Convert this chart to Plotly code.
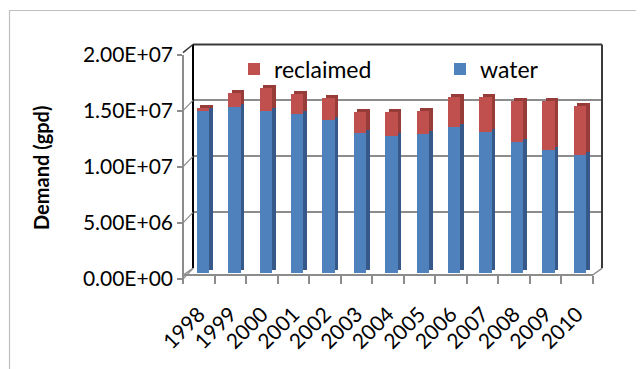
import plotly.graph_objects as go

# ---- data ----
years = ["1998", "1999", "2000", "2001", "2002", "2003", "2004",
         "2005", "2006", "2007", "2008", "2009", "2010"]
water = [14.7e6, 14.9e6, 14.6e6, 14.3e6, 13.8e6, 12.6e6, 12.35e6,
         12.5e6, 13.15e6, 12.65e6, 11.75e6, 11.1e6, 10.6e6]
reclaimed = [0.1e6, 1.3e6, 2.0e6, 1.8e6, 1.95e6, 1.9e6, 2.15e6,
             2.1e6, 2.65e6, 3.2e6, 3.75e6, 4.4e6, 4.4e6]
y_tickvals = [0, 5e6, 1e7, 1.5e7, 2e7]
y_ticktext = ["0.00E+00", "5.00E+06", "1.00E+07", "1.50E+07", "2.00E+07"]

W, H = 644, 369
OFF = 8  # page body margin
FONT = "Lato"


def fx(px):
    return (px - OFF) / W


def fy(px):
    return 1 - (px - OFF) / H


BLUE, RED = "#4F81BD", "#C0504D"
BLUE_D, RED_D = "#36598A", "#973C39"
GRID = "#8C8C8C"

fig = go.Figure()

# subplot 1: back wall gridlines (dummy trace)
fig.add_trace(go.Scatter(x=[], y=[], xaxis="x", yaxis="y", showlegend=False, hoverinfo="skip"))
# subplot 2: darker copy -> side/top faces of the 3D columns
fig.add_trace(go.Bar(x=years, y=water, xaxis="x2", yaxis="y2", marker_color=BLUE_D,
                     marker_line_width=0, width=0.4, showlegend=False, hoverinfo="skip"))
fig.add_trace(go.Bar(x=years, y=reclaimed, xaxis="x2", yaxis="y2", marker_color=RED_D,
                     marker_line_width=0, width=0.4, showlegend=False, hoverinfo="skip"))
# subplot 3: front faces
fig.add_trace(go.Bar(x=years, y=water, name="water", xaxis="x3", yaxis="y3",
                     marker_color=BLUE, marker_line_width=0, width=0.4, legend="legend2"))
fig.add_trace(go.Bar(x=years, y=reclaimed, name="reclaimed", xaxis="x3", yaxis="y3",
                     marker_color=RED, marker_line_width=0, width=0.4, legend="legend"))
# subplot 4: floor axis / front value axis
fig.add_trace(go.Scatter(x=years, y=[None] * len(years), xaxis="x4", yaxis="y4",
                         showlegend=False, hoverinfo="skip"))

hidden_x = dict(type="category", categoryorder="array", categoryarray=years,
                range=[-0.5, 12.5], visible=False, automargin=False)

# bar geometry
B0, BTOP = 273.3, 50.5      # y px of 0 and 2e7 for the front faces
BX0, BX1 = 187.3, 595.5     # x px of category span for front faces
DX, DY = 3.5, 3.0           # depth offset of the column extrusion

leg_common = dict(orientation="h", yanchor="middle", xanchor="left",
                  font=dict(size=23), bgcolor="rgba(0,0,0,0)", itemwidth=30)

fig.update_layout(
    width=W, height=H,
    margin=dict(l=0, r=0, t=0, b=0, autoexpand=False),
    paper_bgcolor="white", plot_bgcolor="rgba(0,0,0,0)",
    barmode="stack", bargap=0.6,
    font=dict(family=FONT, size=21, color="#000000"),
    xaxis=dict(hidden_x, domain=[fx(193), fx(602)], anchor="y"),
    yaxis=dict(domain=[fy(268.3), fy(44.5)], range=[0, 2e7], anchor="x",
               tickvals=y_tickvals, showticklabels=False, ticks="", automargin=False,
               showgrid=True, gridcolor=GRID, gridwidth=1.5, zeroline=False),
    xaxis2=dict(hidden_x, domain=[fx(BX0 + DX), fx(BX1 + DX)], anchor="y2"),
    yaxis2=dict(domain=[fy(B0 - DY), fy(BTOP - DY)], range=[0, 2e7], anchor="x2",
                visible=False, automargin=False),
    xaxis3=dict(hidden_x, domain=[fx(BX0), fx(BX1)], anchor="y3"),
    yaxis3=dict(domain=[fy(B0), fy(BTOP)], range=[0, 2e7], anchor="x3", visible=False,
                automargin=False),
    xaxis4=dict(type="category", categoryorder="array", categoryarray=years,
                range=[-0.5, 12.5], domain=[fx(183.3), fx(592.7)],
                anchor="free", position=fy(275), automargin=False,
                showline=True, linecolor=GRID, linewidth=1.5,
                ticks="outside", tickson="boundaries", ticklen=8, tickcolor=GRID,
                tickwidth=1.5, tickangle=-45, ticklabelstandoff=18,
                showgrid=False, zeroline=False, tickfont=dict(size=21)),
    yaxis4=dict(domain=[fy(279), fy(54.5)], range=[0, 2e7],
                anchor="free", position=fx(183), automargin=False,
                tickvals=y_tickvals, ticktext=y_ticktext,
                showline=True, linecolor=GRID, linewidth=1.5,
                ticks="outside", ticklen=5, tickcolor=GRID, tickwidth=1.5,
                showgrid=False, zeroline=False, tickfont=dict(size=21)),
    legend=dict(leg_common, x=fx(234), y=fy(69)),
    legend2=dict(leg_common, x=fx(440), y=fy(69)),
    showlegend=True,
)

shapes = []


def line(x0, y0, x1, y1, color, width):
    shapes.append(dict(type="line", xref="paper", yref="paper",
                       x0=fx(x0), y0=fy(y0), x1=fx(x1), y1=fy(y1),
                       line=dict(color=color, width=width)))


# outer chart border
shapes.append(dict(type="rect", xref="paper", yref="paper",
                   x0=fx(9.5), y0=fy(390), x1=fx(670), y1=fy(10.5),
                   line=dict(color="#BFBFBF", width=1.2)))
# back wall frame
line(193, 44.5, 602, 44.5, "#3A3A3A", 2)
line(602, 44.5, 602, 268.3, "#3A3A3A", 2)
line(193, 44.5, 193, 268.3, "#000000", 2)
# side wall top diagonal and floor diagonals
line(183, 52.7, 193, 44.5, "#3A3A3A", 1.5)
line(183.3, 275, 193, 268.3, GRID, 1.5)
line(592.7, 275, 602, 268.3, GRID, 1.5)
# side wall gridline connectors
for v in y_tickvals[:-1]:
    yf = 279 - (279 - 54.5) * v / 2e7
    yw = 268.3 - (268.3 - 44.5) * v / 2e7
    line(183, yf, 193, yw, GRID, 1.2)

fig.update_layout(shapes=shapes)

fig.add_annotation(text="<b>Demand (gpd)</b>", xref="paper", yref="paper",
                   x=fx(41), y=fy(168), textangle=-90, showarrow=False,
                   font=dict(size=20, family=FONT), xanchor="center", yanchor="middle")

fig.write_html("out.html")
